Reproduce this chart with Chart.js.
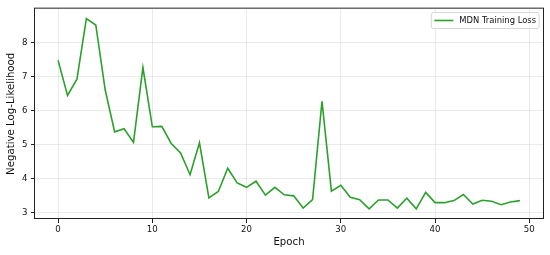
<!DOCTYPE html>
<html>
<head>
<meta charset="utf-8">
<script src="https://cdn.jsdelivr.net/npm/chart.js"></script>
<style>
  body { margin: 0; background: #fff; }
  #wrap { width: 550px; height: 255px; }
</style>
</head>
<body>
<div id="wrap"><canvas id="lossChart"></canvas></div>
<script>
// epochs and loss
const epochs = [0,1,2,3,4,5,6,7,8,9,10,11,12,13,14,15,16,17,18,19,
                20,21,22,23,24,25,26,27,28,29,30,31,32,33,34,35,36,37,38,39,
                40,41,42,43,44,45,46,47,48,49];
const mdnLoss = [7.47,6.44,6.92,8.70,8.51,6.60,5.37,5.46,5.06,7.26,
                 5.52,5.53,5.03,4.75,4.11,5.05,3.43,3.62,4.30,3.87,
                 3.74,3.92,3.51,3.74,3.52,3.49,3.13,3.38,6.27,3.63,
                 3.80,3.45,3.38,3.11,3.37,3.37,3.13,3.42,3.11,3.59,
                 3.29,3.29,3.35,3.53,3.25,3.36,3.33,3.23,3.31,3.35];
const seriesLabel = 'MDN Training Loss';
const xLabel = 'Epoch';
const yLabel = 'Negative Log-Likelihood';

const FONT = 'DejaVu Sans';
const LINE_GREEN = '#2ca02c';

// matplotlib-style box around the axes + legend in the top right
const framePlugin = {
     id:'frame',
     afterDraw(chart){
          const {ctx, chartArea:a} = chart;
          ctx.save();
          ctx.strokeStyle = '#222';
          ctx.lineWidth = 1;
          ctx.strokeRect(a.left-0.5, a.top-0.5, a.right-a.left+1, a.bottom-a.top);

          // legend
          const ds = chart.data.datasets[0];
          ctx.font = '8.4px "' + FONT + '"';
          const tw = ctx.measureText(ds.label).width;
          const bx = a.right - 4 - (tw + 31);
          const by = 12.5;
          const bw = tw + 31, bh = 16;
          ctx.beginPath();
          ctx.roundRect(bx, by, bw, bh, 2);
          ctx.fillStyle = 'rgba(255,255,255,0.8)';
          ctx.fill();
          ctx.strokeStyle = '#d6d6d6';
          ctx.stroke();
          ctx.beginPath();
          ctx.moveTo(bx+3, by+bh/2);
          ctx.lineTo(bx+22, by+bh/2);
          ctx.strokeStyle = ds.borderColor;
          ctx.lineWidth = 1.6;
          ctx.stroke();
          ctx.fillStyle = '#111';
          ctx.textBaseline = 'middle';
          ctx.fillText(ds.label, bx+28, by+bh/2+0.5);
          ctx.restore();
     }
};

const ctx = document.getElementById('lossChart').getContext('2d');
new Chart(ctx, {
     type:'line',
     data:{
          datasets:[{
               label:seriesLabel,
               data:epochs.map((e,i)=>({x:e, y:mdnLoss[i]})),
               borderColor:LINE_GREEN,
               borderWidth:1.6,
               pointRadius:0,
               tension:0,
               fill:false
          }]
     },
     options:{
          responsive:true,
          maintainAspectRatio:false,
          animation:false,
          layout:{ padding:{left:0, right:7, top:7, bottom:0} },
          plugins:{
               legend:{ display:false },
               tooltip:{ enabled:false }
          },
          scales:{
               x:{
                    type:'linear',
                    min:-2.45,
                    max:51.45,
                    afterFit(s){ s.height = 36; },
                    border:{ display:false },
                    grid:{ color:'rgba(0,0,0,0.08)', tickColor:'#222', tickLength:4 },
                    ticks:{ stepSize:10, includeBounds:false, padding:2, color:'#111',
                            maxRotation:0, font:{ family:FONT, size:8.6 } },
                    title:{ display:true, text:xLabel, color:'#111',
                            font:{ family:FONT, size:10.2, lineHeight:1.2 },
                            padding:{ top:0, bottom:6.5 } }
               },
               y:{
                    min:2.81,
                    max:8.99,
                    afterFit(s){ s.width = 35; },
                    border:{ display:false },
                    grid:{ color:'rgba(0,0,0,0.08)', tickColor:'#222', tickLength:4 },
                    ticks:{ stepSize:1, includeBounds:false, padding:3.5, color:'#111',
                            font:{ family:FONT, size:8.6 } },
                    title:{ display:true, text:yLabel, color:'#111',
                            font:{ family:FONT, size:10.2, lineHeight:1.2 },
                            padding:{ top:5, bottom:0 } }
               }
          }
     },
     plugins:[framePlugin]
});
</script>
</body>
</html>
